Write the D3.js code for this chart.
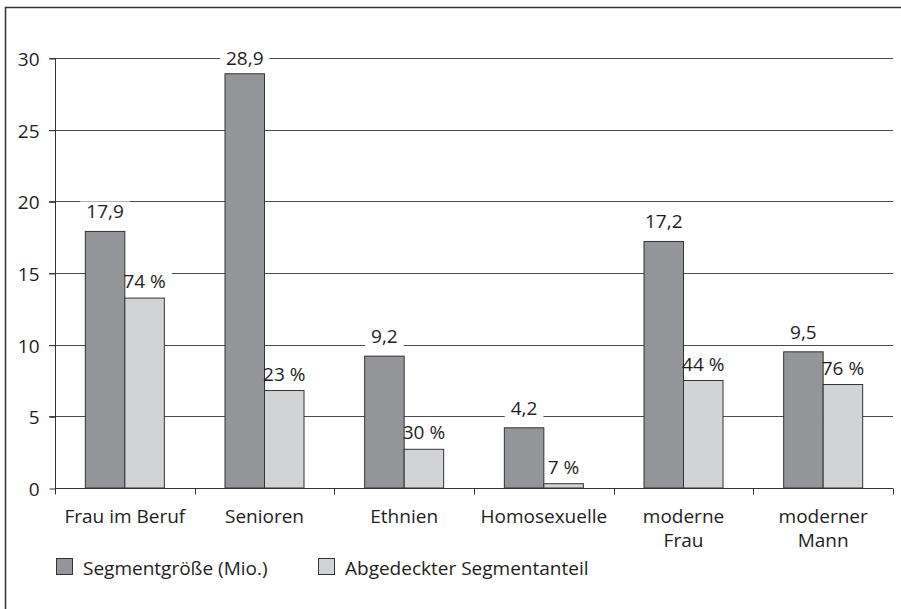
<!DOCTYPE html>
<html>
<head>
<meta charset="utf-8">
<script src="https://cdn.jsdelivr.net/npm/d3@7"></script>
<style>
  html, body { margin: 0; padding: 0; background: #fff; }
  svg { display: block; }
  text { font-family: "Open Sans", "Noto Sans", sans-serif; fill: #1e1e1e; }
</style>
</head>
<body>
<svg id="chart" width="901" height="609"></svg>
<script>
// Zielgruppen-Segmente
const categories = [["Frau im Beruf"], ["Senioren"], ["Ethnien"], ["Homosexuelle"], ["moderne", "Frau"], ["moderner", "Mann"]];
const segmentSize = [17.9, 28.9, 9.2, 4.2, 17.2, 9.5];          // Mio.
const coveredSize = [13.25, 6.8, 2.7, 0.3, 7.5, 7.22];           // abgedeckter Teil, Mio.
const coveredShare = ["74 %", "23 %", "30 %", "7 %", "44 %", "76 %"];
const sizeLabels = ["17,9", "28,9", "9,2", "4,2", "17,2", "9,5"];
const yTicks = [0, 5, 10, 15, 20, 25, 30];
const legendLabels = ["Segmentgröße (Mio.)", "Abgedeckter Segmentanteil"];

const darkFill = "#939598", lightFill = "#d1d3d4", edge = "#333";
const fontSize = "19px";

const svg = d3.select("#chart");
const plotLeft = 55, plotRight = 893, plotTop = 58, plotBottom = 488;

// outer frame
svg.append("path")
  .attr("d", `M5.5,${609 + 5} V7.5 H${901 + 5}`)
  .attr("fill", "none").attr("stroke", "#333").attr("stroke-width", 1.5);

const x = d3.scaleBand().domain(d3.range(categories.length)).range([plotLeft, plotRight]).padding(0);
const y = d3.scaleLinear().domain([0, 30]).range([plotBottom, plotTop]);
const barW = 39.5;
const center = i => x(i) + x.bandwidth() / 2;

// gridlines
svg.append("g").selectAll("line").data(yTicks.filter(d => d > 0)).join("line")
  .attr("x1", plotLeft - 6).attr("x2", plotRight)
  .attr("y1", d => Math.round(y(d)) + 0.5).attr("y2", d => Math.round(y(d)) + 0.5)
  .attr("stroke", "#4a4a4a").attr("stroke-width", 1);

// layers: label backing below the bars, label text above
const backLayer = svg.append("g");
const barLayer = svg.append("g");
const textLayer = svg.append("g");

// y axis
const yAxis = svg.append("g").attr("transform", `translate(${plotLeft + 0.5},0.5)`)
  .call(d3.axisLeft(y).tickValues(yTicks).tickSize(6).tickPadding(10).tickFormat(d3.format("d")));
yAxis.select(".domain").attr("stroke", "#333").attr("d", `M0,${Math.round(plotTop)}V${Math.round(plotBottom)}`);
yAxis.selectAll(".tick line").attr("stroke", "#333");
yAxis.selectAll("text").style("font-size", fontSize).attr("fill", "#1e1e1e").attr("dy", "0.36em");

// x axis with ticks at band boundaries
const xg = svg.append("g").attr("transform", `translate(0,${Math.round(plotBottom) + 0.5})`);
xg.append("line").attr("x1", plotLeft).attr("x2", plotRight).attr("stroke", "#333");
xg.selectAll("line.tk").data(d3.range(categories.length + 1)).join("line").attr("class", "tk")
  .attr("x1", i => Math.round(plotLeft + i * x.bandwidth()) + 0.5)
  .attr("x2", i => Math.round(plotLeft + i * x.bandwidth()) + 0.5)
  .attr("y1", 0).attr("y2", 6).attr("stroke", "#333");

// category labels
const catText = svg.append("g").selectAll("text").data(categories).join("text")
  .attr("text-anchor", "middle").style("font-size", fontSize)
  .attr("transform", (d, i) => `translate(${center(i)},523)`);
catText.selectAll("tspan").data(d => d).join("tspan")
  .attr("x", 0).attr("y", (d, j) => j * 24).text(d => d);

// bars
barLayer.append("g").selectAll("rect").data(segmentSize).join("rect")
  .attr("x", (d, i) => center(i) - barW).attr("width", barW)
  .attr("y", d => y(d)).attr("height", d => y(0) - y(d))
  .attr("fill", darkFill).attr("stroke", edge).attr("stroke-width", 1);

barLayer.append("g").selectAll("rect").data(coveredSize).join("rect")
  .attr("x", (d, i) => center(i)).attr("width", barW)
  .attr("y", d => y(d)).attr("height", d => y(0) - y(d))
  .attr("fill", lightFill).attr("stroke", edge).attr("stroke-width", 1);

// value labels on white backing so the gridlines break around them
function addLabels(values, texts, dx, gap) {
  values.forEach((v, i) => {
    const cx = center(i) + dx;
    const by = Math.max(y(v) - gap, plotTop + 7);
    const t = textLayer.append("text").attr("x", cx).attr("y", by)
      .attr("text-anchor", "middle").style("font-size", fontSize).text(texts[i]);
    const bb = t.node().getBBox();
    backLayer.append("rect").attr("x", bb.x - 6).attr("y", bb.y + 3)
      .attr("width", bb.width + 12).attr("height", bb.height - 6).attr("fill", "#fff");
  });
}
addLabels(segmentSize, sizeLabels, -barW / 2, 13);
addLabels(coveredSize, coveredShare, barW / 2, 10);

// legend
const legendX = [56, 318];
const lg = svg.append("g").selectAll("g").data(legendLabels).join("g")
  .attr("transform", (d, i) => `translate(${legendX[i]},558)`);
lg.append("rect").attr("x", 0.5).attr("y", 0.5).attr("width", 16).attr("height", 16)
  .attr("fill", (d, i) => i === 0 ? darkFill : lightFill).attr("stroke", edge);
lg.append("text").attr("x", 27).attr("y", 17).style("font-size", fontSize).text(d => d);
</script>
</body>
</html>
